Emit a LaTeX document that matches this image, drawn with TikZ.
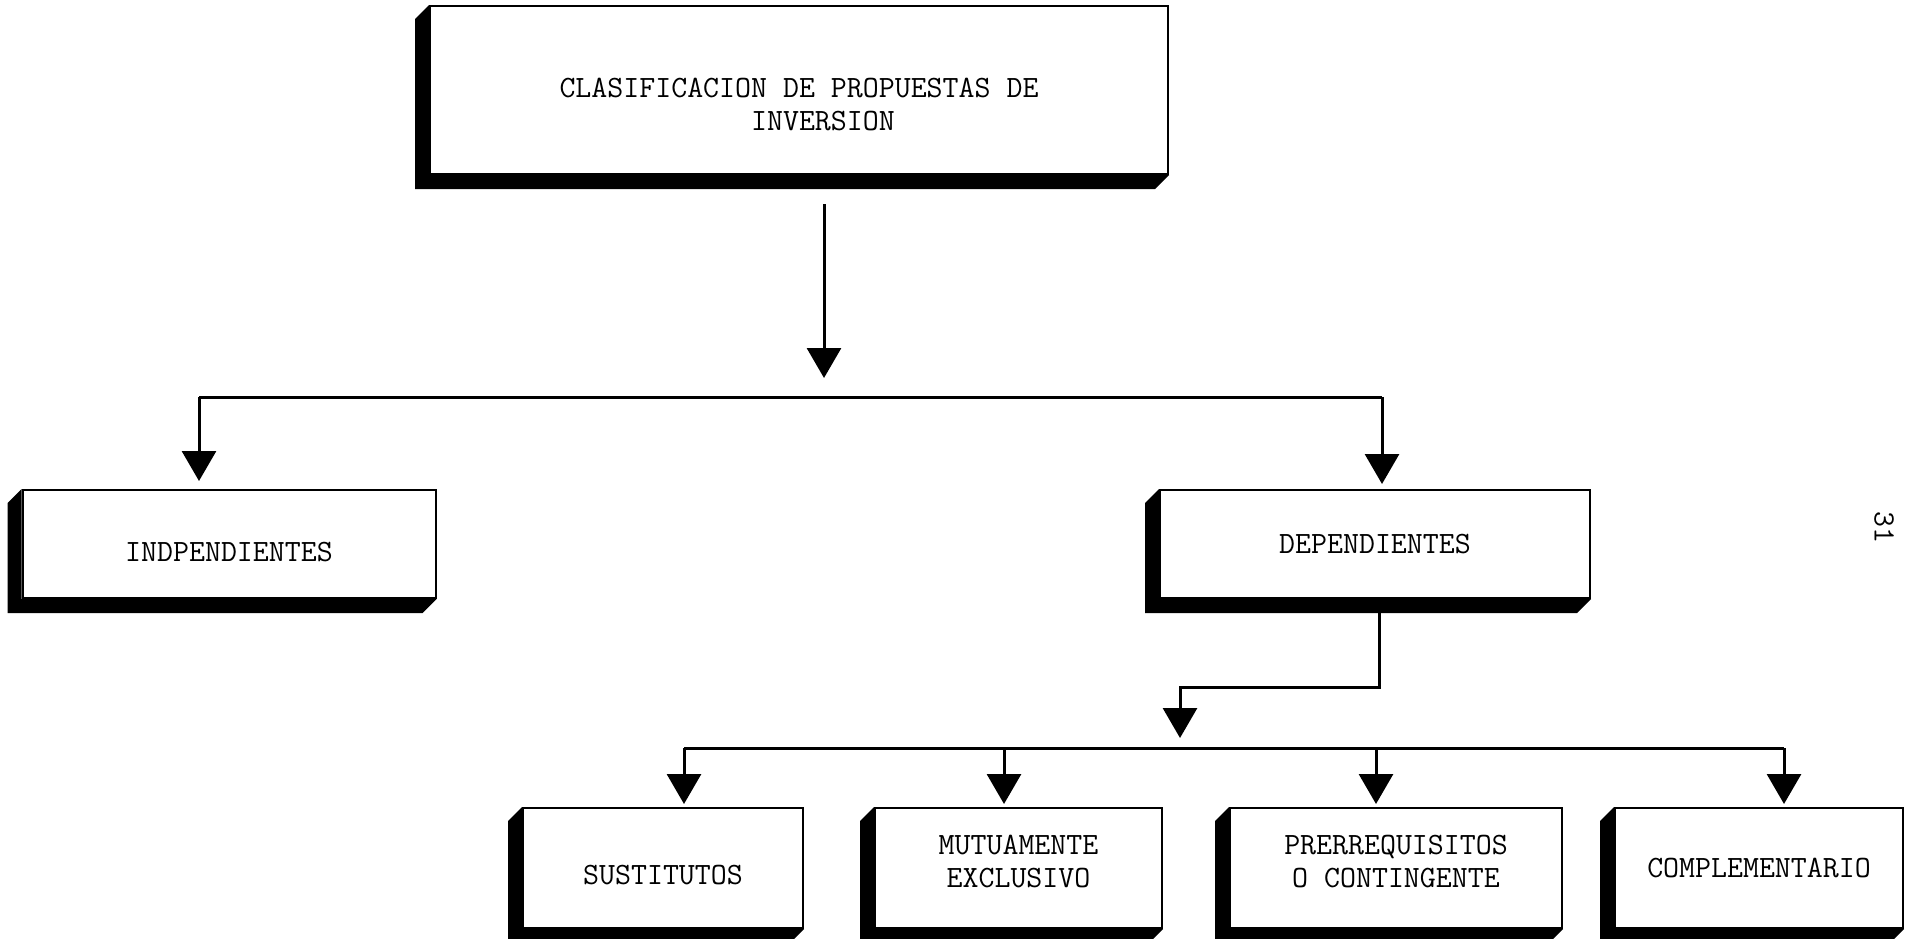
\documentclass[tikz,border=0pt]{standalone}
\usepackage{fontspec}
\usepackage{xcolor}
\usepackage{tikz}
\usetikzlibrary{arrows.meta}
\definecolor{ink}{HTML}{000000}
\definecolor{paper}{HTML}{FFFFFF}
\tikzset{
  box/.style={draw=ink, fill=paper, line width=2pt, inner sep=0pt, align=center, text=ink, font=\ttfamily\fontsize{31}{33}\selectfont},
  link/.style={draw=ink, line width=3pt},
  arrow/.style={link, -{Triangle[width=34pt,length=30pt]}},
  lab/.style={text=ink, font=\ttfamily\fontsize{31}{33}\selectfont},
}

\begin{document}
\begin{tikzpicture}[x=1pt,y=-1pt]
  \useasboundingbox (0,0) rectangle (1913,939);
  % boxes
  \node[box, minimum width=738pt, minimum height=168pt, text height=82pt] (root) at (799,90) {CLASIFICACION DE PROPUESTAS DE\\\hphantom{XXX}INVERSION};
  \node[box, minimum width=413pt, minimum height=108pt, text height=35pt] (indep) at (229,544) {INDPENDIENTES};
  \node[box, minimum width=430pt, minimum height=108pt] (dep) at (1375,544) {DEPENDIENTES};
  \node[box, minimum width=280pt, minimum height=120pt, text height=33pt] (sust) at (663,868) {SUSTITUTOS};
  \node[box, minimum width=287pt, minimum height=120pt, text height=40pt] (mutu) at (1018.5,868) {MUTUAMENTE\\EXCLUSIVO};
  \node[box, minimum width=332pt, minimum height=120pt, text height=40pt] (prer) at (1396,868) {PRERREQUISITOS\\O CONTINGENTE};
  \node[box, minimum width=288pt, minimum height=120pt] (comp) at (1759,868) {COMPLEMENTARIO};
  \foreach \n in {root,indep,dep,sust,mutu,prer,comp}
    \fill[ink] (\n.north west) -- ++(-14pt,-14pt) |- ([shift={(-14pt,-14pt)}]\n.south east) -- (\n.south east) -- (\n.south west) -- cycle;
  % first level
  \coordinate (b1l) at (199,397);
  \coordinate (b1m) at (824,397);
  \coordinate (b1r) at (1382,397);
  \draw[arrow, shorten <=29pt, shorten >=19pt] (root.south -| b1m) -- (b1m);
  \draw[link] (b1l) -- (b1r);
  \draw[arrow, shorten >=8pt] (b1l) -- (b1l |- indep.north);
  \draw[arrow, shorten >=5pt] (b1r) -- (b1r |- dep.north);
  % second level
  \coordinate (d1) at (1379,687);
  \coordinate (b2m) at (1180,748);
  \draw[arrow, shorten >=10pt] (dep.south -| d1) -- (d1) -| (b2m);
  \foreach \x/\n in {684/sust,1004/mutu,1376/prer,1784/comp}{
    \coordinate (t\n) at (\x,748);
    \draw[arrow, shorten >=3pt] (t\n) -- (t\n |- \n.north);
  }
  \draw[link] (tsust) -- (tcomp);
  \node[lab, rotate=-90] (page) at (1884,527) {31};
\end{tikzpicture}
\end{document}
